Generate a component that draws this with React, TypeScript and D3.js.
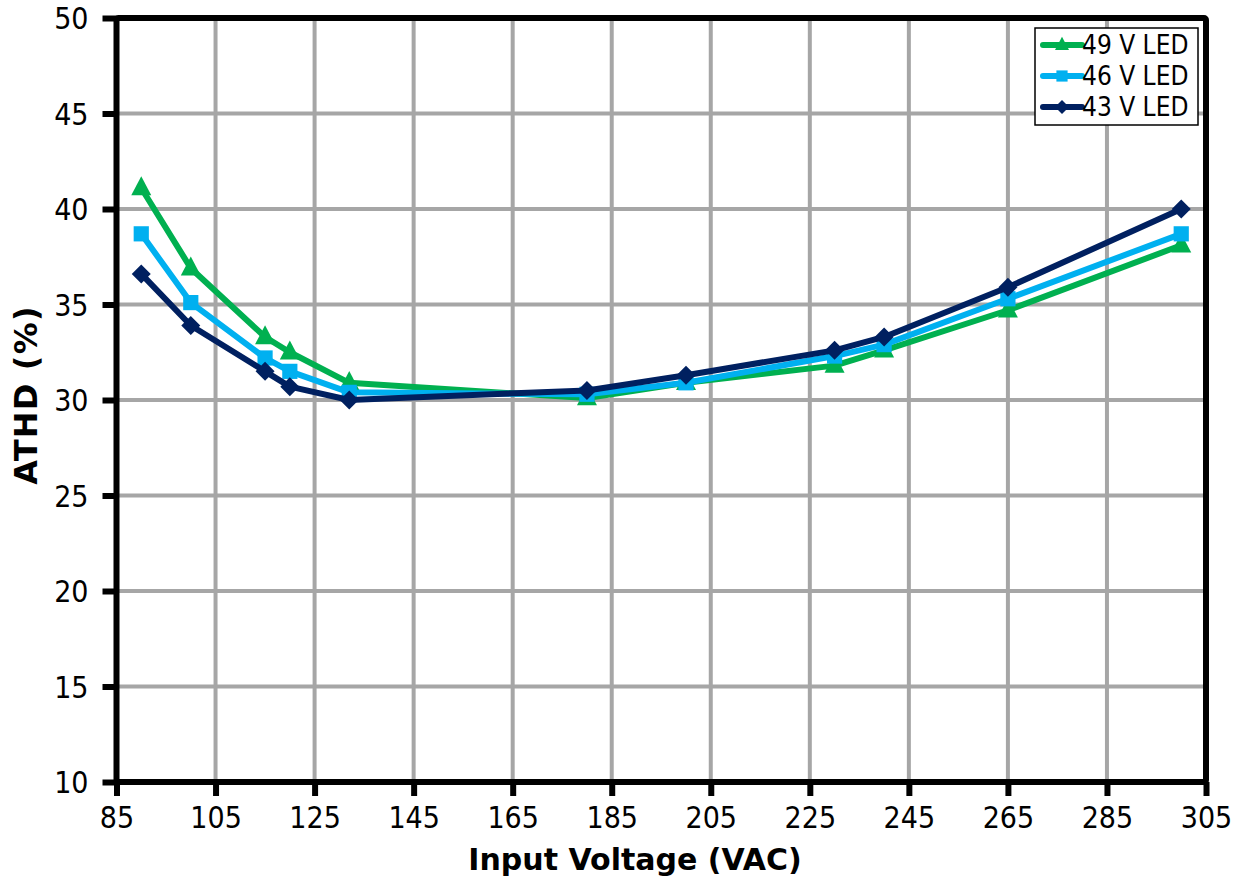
import React, { useEffect, useRef } from "react";
import * as d3 from "d3";

// Input voltage (VAC) at which ATHD was measured
const voltages = [90, 100, 115, 120, 132, 180, 200, 230, 240, 265, 300];

// ATHD (%) per LED string voltage
const athd49 = [41.1, 36.9, 33.3, 32.5, 30.9, 30.1, 30.9, 31.8, 32.6, 34.7, 38.1];
const athd46 = [38.7, 35.1, 32.2, 31.5, 30.4, 30.3, 30.9, 32.3, 32.9, 35.3, 38.7];
const athd43 = [36.6, 33.9, 31.5, 30.7, 30.0, 30.5, 31.3, 32.6, 33.3, 35.9, 40.0];

const xTicks = [85, 105, 125, 145, 165, 185, 205, 225, 245, 265, 285, 305];
const yTicks = [10, 15, 20, 25, 30, 35, 40, 45, 50];

interface Series {
  name: string;
  color: string;
  marker: "triangle" | "square" | "diamond";
  values: number[];
}

const series: Series[] = [
  { name: "49 V LED", color: "#00b050", marker: "triangle", values: athd49 },
  { name: "46 V LED", color: "#00b0f0", marker: "square", values: athd46 },
  { name: "43 V LED", color: "#002060", marker: "diamond", values: athd43 },
];

const tickFont = "'DejaVu Sans Condensed', 'DejaVu Sans', sans-serif";
const titleFont = "'DejaVu Sans', Verdana, sans-serif";

const markerPath = (kind: Series["marker"], s: number) => {
  if (kind === "triangle") {
    const h = s * 0.95;
    return `M0,${-h * 0.62}L${s / 2},${h * 0.38}L${-s / 2},${h * 0.38}Z`;
  }
  if (kind === "square") {
    const a = s * 0.4;
    return `M${-a},${-a}H${a}V${a}H${-a}Z`;
  }
  const a = s * 0.5;
  return `M0,${-a}L${a},0L0,${a}L${-a},0Z`;
};

const Chart: React.FC = () => {
  const ref = useRef<SVGSVGElement>(null);

  useEffect(() => {
    if (!ref.current) return;
    const width = 1249;
    const height = 884;
    const margin = { top: 18, right: 43, bottom: 102, left: 116.5 };
    const innerWidth = width - margin.left - margin.right;
    const innerHeight = height - margin.top - margin.bottom;

    const root = d3.select(ref.current);
    root.selectAll("*").remove();

    const svg = root.append("g").attr("transform", `translate(${margin.left},${margin.top})`);

    const x = d3.scaleLinear().domain([85, 305]).range([0, innerWidth]);
    const y = d3.scaleLinear().domain([10, 50]).range([innerHeight, 0]);

    // Grid
    svg.append("g")
      .selectAll("line")
      .data(xTicks.slice(1, -1))
      .enter()
      .append("line")
      .attr("x1", (d) => x(d))
      .attr("x2", (d) => x(d))
      .attr("y1", 0)
      .attr("y2", innerHeight)
      .attr("stroke", "#a6a6a6")
      .attr("stroke-width", 4);

    svg.append("g")
      .selectAll("line")
      .data(yTicks.slice(1, -1))
      .enter()
      .append("line")
      .attr("x1", 0)
      .attr("x2", innerWidth)
      .attr("y1", (d) => y(d))
      .attr("y2", (d) => y(d))
      .attr("stroke", "#a6a6a6")
      .attr("stroke-width", 4);

    // Series
    const line = d3.line<number>()
      .x((_, i) => x(voltages[i]))
      .y((d) => y(d));

    series.forEach((s) => {
      svg.append("path")
        .datum(s.values)
        .attr("d", line)
        .attr("fill", "none")
        .attr("stroke", s.color)
        .attr("stroke-width", 6)
        .attr("stroke-linejoin", "round");
      svg.append("g")
        .selectAll("path")
        .data(s.values)
        .enter()
        .append("path")
        .attr("transform", (d, i) => `translate(${x(voltages[i])},${y(d)})`)
        .attr("d", markerPath(s.marker, s.marker === "triangle" ? 20 : 19))
        .attr("fill", s.color);
    });

    // Frame
    svg.append("rect")
      .attr("x", 0)
      .attr("y", 0)
      .attr("width", innerWidth)
      .attr("height", innerHeight)
      .attr("rx", 2)
      .attr("fill", "none")
      .attr("stroke", "#000")
      .attr("stroke-width", 6);

    // Axes
    const xAxis = svg.append("g")
      .attr("transform", `translate(0,${innerHeight})`)
      .call(d3.axisBottom(x).tickValues(xTicks).tickSize(14).tickPadding(11).tickFormat(d3.format("d")));
    const yAxis = svg.append("g")
      .call(d3.axisLeft(y).tickValues(yTicks).tickSize(14).tickPadding(14).tickFormat(d3.format("d")));

    [xAxis, yAxis].forEach((a) => {
      a.select(".domain").remove();
      a.selectAll(".tick line").attr("stroke", "#000").attr("stroke-width", 6);
      a.selectAll(".tick text")
        .attr("fill", "#000")
        .style("font-family", tickFont)
        .style("font-stretch", "condensed")
        .style("font-size", "30px");
    });
    yAxis.selectAll(".tick text").attr("dy", "0.36em");

    // Axis titles
    svg.append("text")
      .attr("x", x(189.7))
      .attr("y", innerHeight + 88)
      .attr("text-anchor", "middle")
      .style("font-family", titleFont)
      .style("font-weight", "bold")
      .style("font-size", "30px")
      .text("Input Voltage (VAC)");

    svg.append("text")
      .attr("transform", `translate(${37 - margin.left},${395 - margin.top}) rotate(-90)`)
      .attr("text-anchor", "middle")
      .style("font-family", titleFont)
      .style("font-weight", "bold")
      .style("font-size", "32px")
      .style("letter-spacing", "1.2px")
      .text("ATHD (%)");

    // Legend
    const lg = svg.append("g").attr("transform", `translate(${1035 - margin.left},${28 - margin.top})`);
    lg.append("rect")
      .attr("width", 163)
      .attr("height", 97)
      .attr("fill", "#fff")
      .attr("stroke", "#000")
      .attr("stroke-width", 1.5);
    series.forEach((s, i) => {
      const row = lg.append("g").attr("transform", `translate(0,${17 + i * 31})`);
      row.append("line")
        .attr("x1", 8)
        .attr("x2", 47)
        .attr("stroke", s.color)
        .attr("stroke-width", 6)
        .attr("stroke-linecap", "round");
      row.append("path")
        .attr("transform", "translate(27,0)")
        .attr("d", markerPath(s.marker, 14))
        .attr("fill", s.color);
      row.append("text")
        .attr("x", 47)
        .attr("dy", "0.36em")
        .style("font-family", tickFont)
        .style("font-stretch", "condensed")
        .style("font-size", "26px")
        .text(s.name);
    });
  }, []);

  return <svg ref={ref} width={1249} height={884} style={{ display: "block", background: "#fff" }} />;
};

export default function App() {
  return (
    <div style={{ position: "absolute", left: 0, top: 0 }}>
      <Chart />
    </div>
  );
}
